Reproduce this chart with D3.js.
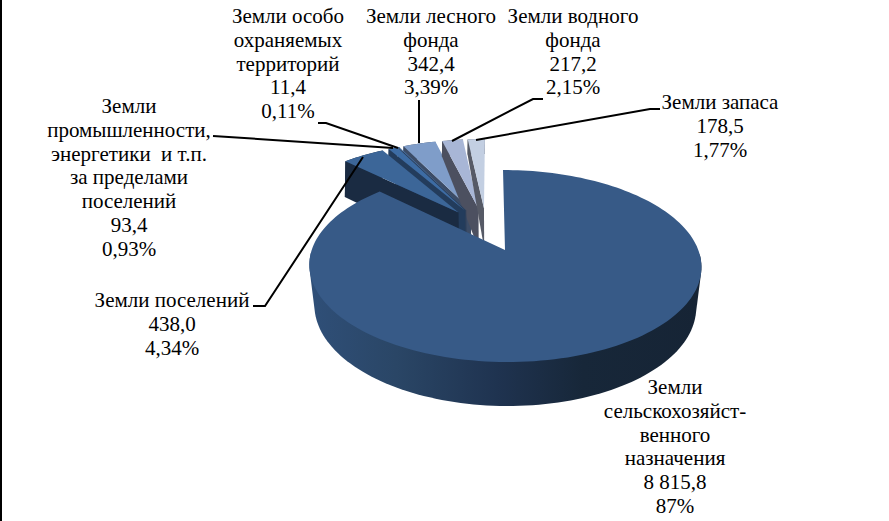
<!DOCTYPE html>
<html><head><meta charset="utf-8">
<script src="https://cdn.jsdelivr.net/npm/d3@7"></script>
<style>html,body{margin:0;padding:0;background:#fff;overflow:hidden}svg{display:block}
text{font-family:"Liberation Serif",serif;font-size:21px;fill:#000;text-anchor:middle}</style>
</head><body><svg id="c" width="889" height="521"></svg>
<script>
const categories=["Земли сельскохозяйственного назначения","Земли поселений","Земли промышленности","Земли особо охраняемых территорий","Земли лесного фонда","Земли водного фонда","Земли запаса"];
const values=[8815.8,438.0,93.4,11.4,342.4,217.2,178.5];
const topColors=["#375a87","#3c6698","#3d6ca4","#4a78b0","#7f9dc9","#a8b6d6","#c3cfe2"];
const wallColors=["url(#wallGrad)","#1a2b42","#233c5c","#2c3f5a","#3c4c66","#4c5060","#565a66"];
const wallDepth=[1,1,.8,.8,.45,.45,.45];
const labelLines=[
 ["Земли","сельскохозяйст-","венного","назначения","8 815,8","87%"],
 ["Земли поселений","438,0","4,34%"],
 ["Земли","промышленности,","энергетики  и т.п.","за пределами","поселений","93,4","0,93%"],
 ["Земли особо","охраняемых","территорий","11,4","0,11%"],
 ["Земли лесного","фонда","342,4","3,39%"],
 ["Земли водного","фонда","217,2","2,15%"],
 ["Земли запаса","178,5","1,77%"]];
const labelPos=[[675,394],[172,307],[129,113],[288,23],[431,23],[573,23],[720,109]];
const leaders=[null,
 [[253,306],[265,306],[363,157]],
 [[213,136],[393,148]],
 [[318,123],[326,123],[398,148]],
 [[419,100],[419,143]],
 [[543,99],[533,99],[452,141]],
 [[660,109],[650,109],[476,140]]];

const svg=d3.select("#c");
const defs=svg.append("defs");
const g=defs.append("linearGradient").attr("id","wallGrad").attr("gradientUnits","userSpaceOnUse")
 .attr("x1",310).attr("x2",700).attr("y1",0).attr("y2",0);
[[0,"#2f4f78"],[.22,"#2a4666"],[.48,"#1f3350"],[.7,"#172739"],[1,"#162435"]]
 .forEach(d=>g.append("stop").attr("offset",d[0]).attr("stop-color",d[1]));

const A=[505,250], explode=.252, shear=.012;
const topPlane={a:193.3,b:93.33,k:1/6,h:0};
const lowPlane={a:189,b:97.7,k:.14,h:42.4};
const project=(p,u,v)=>{const w=1-p.k*v;return [A[0]+p.a*(u+shear*v)/w, A[1]+p.h+p.b*v/w];};

const arcs=d3.pie().sort(null).value(d=>d)(values);
const mid0=(arcs[0].startAngle+arcs[0].endAngle)/2;
const O=[-explode*Math.sin(mid0), explode*Math.cos(mid0)];
const line=d3.line();
const colorTop=d3.scaleOrdinal().domain(d3.range(7)).range(topColors);
const colorWall=d3.scaleOrdinal().domain(d3.range(7)).range(wallColors);

function geom(d,i){
 const m=(d.startAngle+d.endAngle)/2;
 const c=[O[0]+explode*Math.sin(m), O[1]-explode*Math.cos(m)];
 const n=Math.max(3,Math.ceil((d.endAngle-d.startAngle)/0.03));
 const th=d3.range(n+1).map(j=>d.startAngle+(d.endAngle-d.startAngle)*j/n);
 const rim=(p,ts)=>ts.map(t=>project(p,c[0]+Math.sin(t),c[1]-Math.cos(t)));
 const rimT=rim(topPlane,th);
 const rimL=rim(lowPlane,th).map((q,j)=>[rimT[j][0]+(q[0]-rimT[j][0])*wallDepth[i],rimT[j][1]+(q[1]-rimT[j][1])*wallDepth[i]]);
 // the front of the drum: only the angles that face the viewer
 const front=th.filter(t=>t>Math.PI*.51&&t<Math.PI*1.49);
 return {apexT:project(topPlane,c[0],c[1]),apexL:project(lowPlane,c[0],c[1]),rimT,rimL,
  hull:front.length?d3.polygonHull(rim(topPlane,front).concat(rim(lowPlane,front))):null};
}
const order=[4,5,6,3,2,1,0];
const gPie=svg.append("g");
order.forEach(i=>{
 const s=geom(arcs[i],i), gi=gPie.append("g");
 const wall=colorWall(i);
 if(i===0){
  gi.append("path").attr("d",line(s.hull)+"Z").attr("fill",wall);
 }else{
  gi.append("path").attr("d",line(s.rimT.concat(s.rimL.slice().reverse()))+"Z").attr("fill",wall);
  gi.append("path").attr("d",line([s.apexT,s.rimT[0],s.rimL[0],s.apexL])+"Z").attr("fill",wall);
 }
 gi.append("path").attr("d",line([s.apexT].concat(s.rimT))+"Z").attr("fill",colorTop(i));
});
leaders.forEach(l=>{ if(!l) return;
 svg.append("path").attr("d",line(l)).attr("fill","none").attr("stroke","#000").attr("stroke-width",2);});
svg.append("line").attr("x1",1).attr("x2",1).attr("y1",0).attr("y2",521).attr("stroke","#000").attr("stroke-width",2);
labelLines.forEach((ls,i)=>ls.forEach((t,j)=>{
 svg.append("text").attr("x",labelPos[i][0]).attr("y",labelPos[i][1]+j*23.8).attr("xml:space","preserve").text(t);
}));
</script></body></html>
